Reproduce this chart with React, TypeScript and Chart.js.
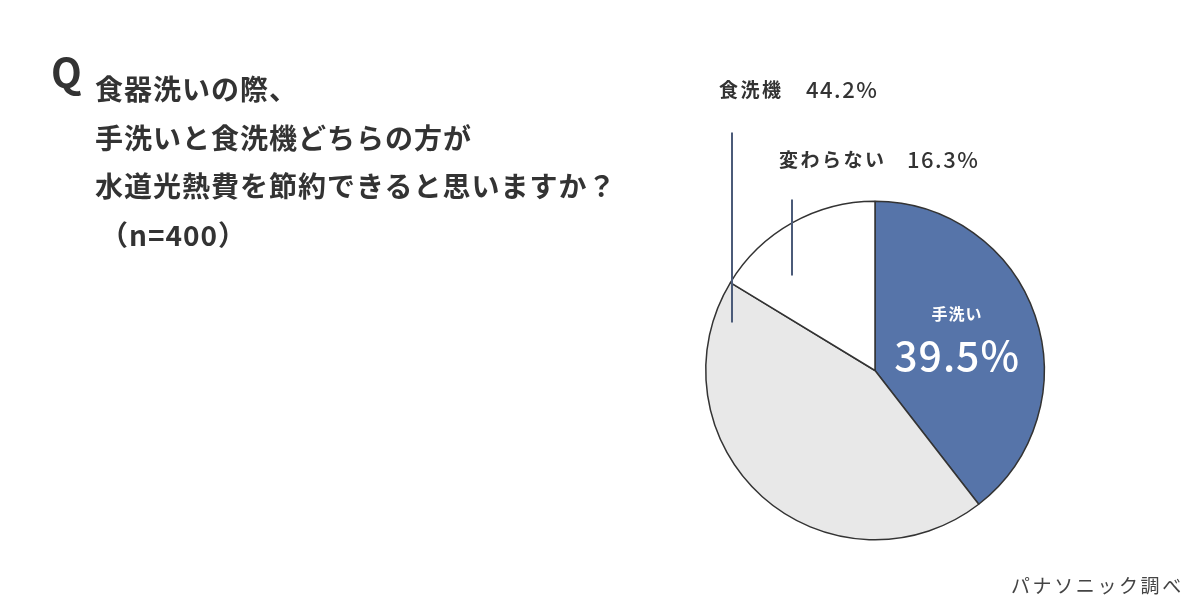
import React, { useEffect, useRef } from 'react'
import { Chart, registerables } from 'chart.js'

Chart.register(...registerables)

// answer shares, clockwise from 12 o'clock
const categories = ['手洗い', '食洗機', '変わらない']
const shares = [39.5, 44.2, 16.3]

const questionLines = [
  '食器洗いの際、',
  '手洗いと食洗機どちらの方が',
  '水道光熱費を節約できると思いますか？',
  '（n=400）'
]
const sourceNote = 'パナソニック調べ'

const sliceColors = ['#5674a9', '#e8e8e8', '#ffffff']
const FONT = '"Noto Sans CJK JP", "Noto Sans", sans-serif'
const TEXT = '#333333'

const fmt = (v: number) => v.toFixed(1) + '%'

// labels and leader lines around the pie
const calloutPlugin = {
  id: 'callouts',
  afterDatasetsDraw(chart: any) {
    const ctx = chart.ctx
    const arcs = chart.getDatasetMeta(0).data
    if (!arcs.length) return
    const { x: cx, y: cy } = arcs[0]

    ctx.save()
    ctx.textBaseline = 'middle'

    // leader lines
    ctx.strokeStyle = '#4b5b79'
    ctx.lineWidth = 2
    ctx.beginPath()
    ctx.moveTo(cx - 143, cy - 238)
    ctx.lineTo(cx - 143, cy - 48)
    ctx.moveTo(cx - 83, cy - 171)
    ctx.lineTo(cx - 83, cy - 95)
    ctx.stroke()

    const outside = [
      { i: 1, x: cx - 156, vx: cx - 69, y: cy - 281 },
      { i: 2, x: cx - 96, vx: cx + 32, y: cy - 211 }
    ]
    ctx.fillStyle = TEXT
    ctx.textAlign = 'left'
    outside.forEach((o) => {
      ctx.letterSpacing = '2.5px'
      ctx.font = `700 19px ${FONT}`
      ctx.fillText(categories[o.i], o.x, o.y)
      ctx.letterSpacing = '1.5px'
      ctx.font = `500 22px ${FONT}`
      ctx.fillText(fmt(shares[o.i]), o.vx, o.y)
    })

    // label inside the blue slice
    const p = arcs[0].tooltipPosition()
    ctx.fillStyle = '#ffffff'
    ctx.textAlign = 'center'
    ctx.letterSpacing = '1px'
    ctx.font = `700 16px ${FONT}`
    ctx.fillText(categories[0], p.x + 2, p.y - 29)
    ctx.letterSpacing = '1px'
    ctx.font = `500 41px ${FONT}`
    ctx.fillText(fmt(shares[0]), p.x + 2, p.y + 12)
    ctx.restore()
  }
}

const App = () => {
  const canvasRef = useRef<HTMLCanvasElement>(null)
  const chartRef = useRef<Chart | null>(null)

  useEffect(() => {
    const ctx = canvasRef.current!.getContext('2d')!
    chartRef.current = new Chart(ctx, {
      type: 'pie',
      data: {
        labels: categories,
        datasets: [
          {
            data: shares,
            backgroundColor: sliceColors,
            borderColor: '#333333',
            borderWidth: 1.5
          }
        ]
      },
      options: {
        animation: false,
        responsive: true,
        maintainAspectRatio: false,
        layout: { padding: { left: 705, right: 155, top: 200, bottom: 68 } },
        plugins: {
          legend: { display: false },
          tooltip: { enabled: false }
        }
      },
      plugins: [calloutPlugin]
    })
    return () => {
      chartRef.current?.destroy()
    }
  }, [])

  return (
    <div
      style={{
        position: 'absolute',
        left: 0,
        top: 0,
        width: 1200,
        height: 609,
        background: '#fff',
        fontFamily: FONT,
        color: TEXT
      }}
    >
      <canvas ref={canvasRef} style={{ position: 'absolute', left: 0, top: 0 }} />
      <div
        style={{
          position: 'absolute',
          left: 51,
          top: 51,
          fontSize: 40,
          lineHeight: '40px',
          fontWeight: 700
        }}
      >
        Q
      </div>
      <div
        style={{
          position: 'absolute',
          left: 95,
          top: 64,
          fontSize: 28,
          lineHeight: '48.7px',
          fontWeight: 700,
          letterSpacing: 1,
          whiteSpace: 'nowrap'
        }}
      >
        {questionLines.map((l, i) => (
          <div key={i} style={{ paddingLeft: i === questionLines.length - 1 ? 5 : 0 }}>
            {l}
          </div>
        ))}
      </div>
      <div
        style={{
          position: 'absolute',
          left: 1011,
          top: 572,
          fontSize: 19,
          lineHeight: '26px',
          letterSpacing: 2.6,
          color: '#444'
        }}
      >
        {sourceNote}
      </div>
    </div>
  )
}

export default App
